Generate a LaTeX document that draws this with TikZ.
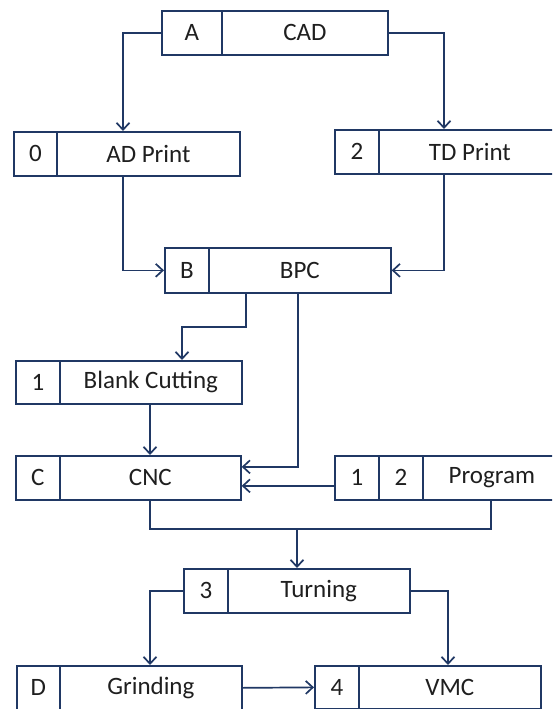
\documentclass[tikz,border=0pt]{standalone}
\usepackage{fontspec}
\setmainfont{Carlito}
\usetikzlibrary{arrows.meta,calc}
\definecolor{navy}{HTML}{203864}
\tikzset{
  cell/.style={draw=navy, line width=1.7pt, inner sep=0pt, anchor=north west,
    minimum height=44pt, font=\fontsize{25}{29}\selectfont, text=black!88},
  flow/.style={draw=navy, line width=1.7pt,
    -{Straight Barb[length=7pt,width=13pt,line width=1.7pt]}},
  link/.style={draw=navy, line width=1.7pt}
}
\begin{document}
\begin{tikzpicture}[x=1pt,y=1pt]
\useasboundingbox (0,0) rectangle (552,-709);
\clip (0,0) rectangle (552,-709);
\fill[white] (0,0) rectangle (552,-709);

% process boxes: label cell + name cell
\node[cell, minimum width=60pt]  (cadL) at (161,-10) {A};
\node[cell, minimum width=166pt] (cad)  at (221,-10) {CAD};

\node[cell, minimum width=43pt]  (adL) at (13,-131) {0};
\node[cell, minimum width=183pt] (ad)  at (56,-131) {AD Print};

\node[cell, minimum width=44pt]  (tdL) at (334,-129) {2};
\node[cell, minimum width=182pt] (td)  at (378,-129) {TD Print};

\node[cell, minimum width=44pt, minimum height=45pt]  (bpcL) at (164,-247) {B};
\node[cell, minimum width=182pt, minimum height=45pt] (bpc)  at (208,-247) {BPC};

\node[cell, minimum width=44pt, minimum height=43pt]  (bcL) at (15,-360) {1};
\node[cell, minimum width=182pt, minimum height=43pt] (bc)  at (59,-360) {Blank Cutting};

\node[cell, minimum width=44pt]  (cncL) at (15,-455) {C};
\node[cell, minimum width=181pt] (cnc)  at (59,-455) {CNC};

\node[cell, minimum width=44pt]  (prgA) at (334,-455) {1};
\node[cell, minimum width=44pt]  (prgB) at (378,-455) {2};
\node[cell, minimum width=138pt] (prg)  at (422,-455) {Program};

\node[cell, minimum width=44pt]  (turnL) at (183,-568) {3};
\node[cell, minimum width=182pt] (turn)  at (227,-568) {Turning};

\node[cell, minimum width=43pt]  (grL) at (16,-665) {D};
\node[cell, minimum width=182pt] (gr)  at (59,-665) {Grinding};

\node[cell, minimum width=44pt, minimum height=43pt]  (vmcL) at (314,-665) {4};
\node[cell, minimum width=182pt, minimum height=43pt] (vmc)  at (358,-665) {VMC};

% connectors
\draw[flow] (cadL.west) -| ([xshift=110pt]adL.north west);
\draw[flow] (cad.east) -| ([xshift=110pt]tdL.north west);
\draw[flow] ([xshift=110pt]adL.south west) |- (bpcL.west);
\draw[flow] ([xshift=110pt]tdL.south west) |- (bpc.east);
\draw[flow] ([xshift=38pt]bpc.south west) -- ++(0,-33) -| ([xshift=123pt]bc.north west);
\draw[flow] ([xshift=90pt]bpc.south west) |- ([yshift=11pt]cnc.east);
\draw[flow] ([xshift=91pt]bc.south west) -- ([xshift=91pt]cnc.north west);
\draw[flow] ([yshift=-8pt]prgA.west) -- ([yshift=-8pt]cnc.east);
\draw[link] ([xshift=91pt]cnc.south west) -- ++(0,-28) coordinate (mergeL)
  -| ([xshift=69pt]prg.south west);
\coordinate (merge) at ([xshift=70pt]turn.north west |- mergeL);
\draw[flow] (merge) -- ([xshift=70pt]turn.north west);
\draw[flow] (turnL.west) -| ([xshift=91pt]gr.north west);
\draw[flow] (turn.east) -| ([xshift=90pt]vmc.north west);
\draw[flow] (gr.east) -- (vmcL.west);
\end{tikzpicture}
\end{document}
